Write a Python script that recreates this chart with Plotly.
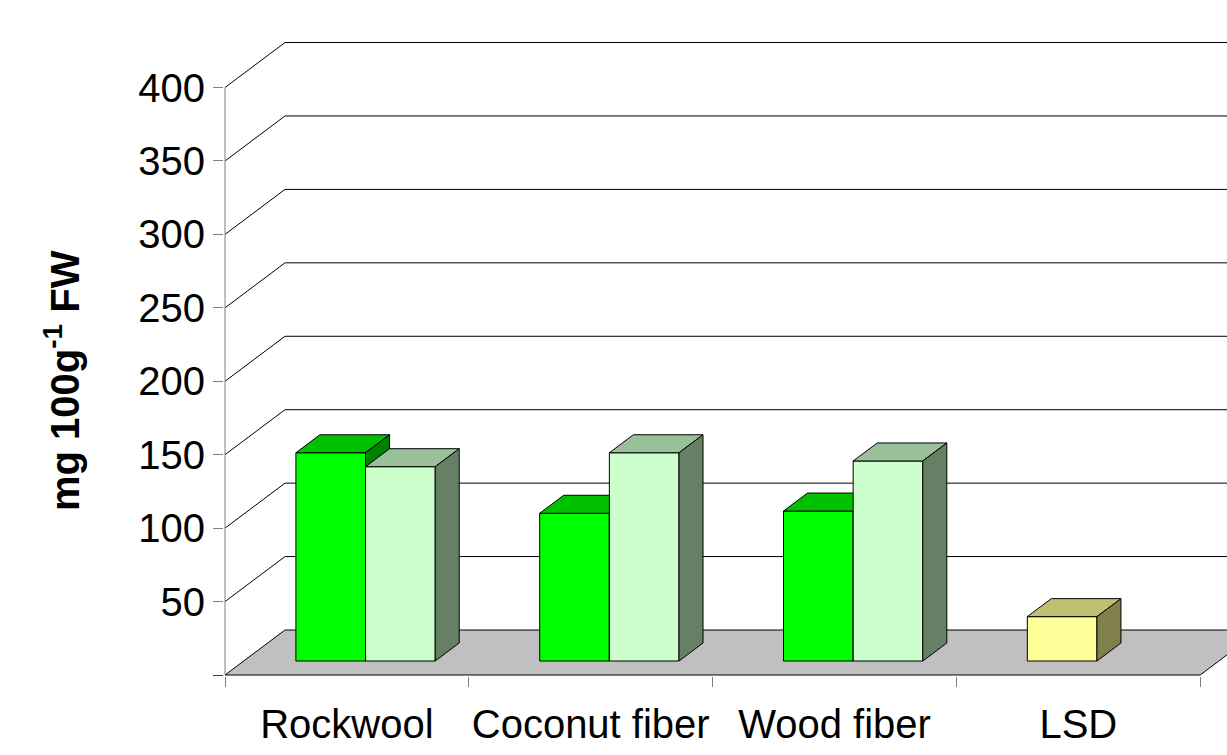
import plotly.graph_objects as go

# ---- data -------------------------------------------------------------
categories = ["Rockwool", "Coconut fiber", "Wood fiber", "LSD"]
series_1 = [141.8, 100.6, 102.1]          # dark green bars
series_2 = [132.3, 141.8, 136.2]          # light green bars
lsd_value = [30.2]                        # yellow bar in the LSD slot
y_ticks = [50, 100, 150, 200, 250, 300, 350, 400]
y_labels = [str(v) for v in y_ticks]

# ---- pseudo-3D projection --------------------------------------------
# depth 0 = front plane (axes), depth 1 = back wall
DX = 0.2461          # horizontal shift, category units, for full depth
DY = 30.64           # vertical shift, value units, for full depth
GAP = 0.75           # gap on each side, as a fraction of a bar width
W = 1 / (2 + 2 * GAP)
D0, D1 = 0.311, 0.711  # bar depth span

FONT = "Liberation Sans, Arial, sans-serif"

PALETTES = {
    "dark": ("#00FF00", "#00C000", "#008000"),
    "light": ("#CCFFCC", "#99C099", "#668066"),
    "yellow": ("#FFFF99", "#C0C073", "#80804D"),
}


def proj(pts):
    xs = [x + d * DX for x, v, d in pts]
    ys = [v + d * DY for x, v, d in pts]
    return xs + [xs[0]], ys + [ys[0]]


def polygon(pts, fill, line_color="#000000", width=1):
    xs, ys = proj(pts)
    return go.Scatter(x=xs, y=ys, mode="lines", fill="toself",
                      fillcolor=fill, line=dict(color=line_color, width=width),
                      hoverinfo="skip")


def line3d(pts, color="#000000", width=1):
    xs = [x + d * DX for x, v, d in pts]
    ys = [v + d * DY for x, v, d in pts]
    return go.Scatter(x=xs, y=ys, mode="lines",
                      line=dict(color=color, width=width), hoverinfo="skip")


n_cat = len(categories)
traces = []

# floor
traces.append(polygon([(0, 0, 0), (n_cat, 0, 0), (n_cat, 0, 1), (0, 0, 1)],
                      "#C0C0C0"))

# gridlines: side-wall diagonals and back-wall horizontals
for v in y_ticks:
    traces.append(line3d([(0, v, 0), (0, v, 1), (n_cat + 1, v, 1)]))

# front value axis
traces.append(line3d([(0, 0, 0), (0, y_ticks[-1], 0)], color="#808080"))

# bars: (category index, slot, value, palette)
bars = []
for i in range(len(series_1)):
    bars.append((i, 0, series_1[i], "dark"))
    bars.append((i, 1, series_2[i], "light"))
bars.append((3, 0, lsd_value[0], "yellow"))

for cat, slot, val, pal in bars:
    front_c, top_c, side_c = PALETTES[pal]
    x0 = cat + GAP * W + slot * W
    x1 = x0 + W
    traces.append(polygon([(x0, 0, D0), (x1, 0, D0), (x1, val, D0), (x0, val, D0)], front_c))
    traces.append(polygon([(x0, val, D0), (x1, val, D0), (x1, val, D1), (x0, val, D1)], top_c))
    traces.append(polygon([(x1, 0, D0), (x1, 0, D1), (x1, val, D1), (x1, val, D0)], side_c))

fig = go.Figure(traces)

PX_PER_CAT = 243.8
PX_PER_VAL = 676 / 460.28

fig.update_layout(
    width=1227, height=755,
    margin=dict(l=224, r=0, t=0, b=79, pad=0),
    paper_bgcolor="white", plot_bgcolor="white",
    showlegend=False,
    font=dict(family=FONT, size=40, color="#000000"),
    xaxis=dict(
        range=[-1 / PX_PER_CAT, 1002 / PX_PER_CAT],
        tickmode="array",
        tickvals=[i + 0.5 for i in range(n_cat)],
        ticktext=categories,
        ticks="outside", ticklen=13, tickcolor="rgba(0,0,0,0)",
        tickfont=dict(family=FONT, size=40, color="#000000"),
        minor=dict(tickmode="array", tickvals=list(range(n_cat + 1)),
                   ticks="outside", ticklen=10, tickcolor="#808080", tickwidth=1,
                   showgrid=False),
        showgrid=False, zeroline=False, showline=False, fixedrange=True,
    ),
    yaxis=dict(
        range=[-1 / PX_PER_VAL, 675 / PX_PER_VAL],
        tickmode="array", tickvals=y_ticks, ticktext=y_labels,
        ticks="outside", ticklen=10, tickcolor="#808080", tickwidth=1,
        tickfont=dict(family=FONT, size=40, color="#000000"),
        minor=dict(tickmode="array", tickvals=[0], ticks="outside",
                   ticklen=10, tickcolor="#404040", tickwidth=1,
                   showgrid=False),
        showgrid=False, zeroline=False, showline=False, fixedrange=True,
    ),
    annotations=[dict(
        text="<b>mg 100g<sup>-1</sup> FW</b>",
        xref="paper", yref="paper",
        x=(62 - 224) / 1003, y=(676 - 381) / 676,
        xanchor="center", yanchor="middle",
        textangle=-90, showarrow=False,
        font=dict(family=FONT, size=40, color="#000000"),
    )],
)

fig.write_html("out.html")
